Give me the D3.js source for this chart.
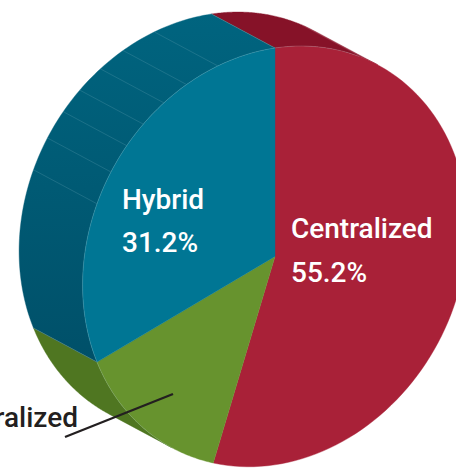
<!DOCTYPE html>
<html>
<head>
<meta charset="utf-8">
<script src="https://cdn.jsdelivr.net/npm/d3@7/dist/d3.min.js"></script>
<style>
html,body{margin:0;padding:0;background:#fff;overflow:hidden}
svg{display:block}
text{font-family:"Roboto",sans-serif;font-weight:500}
</style>
</head>
<body>
<script>
const categories = ["Centralized", "Decentralized", "Hybrid"];
const shares = [55.2, 13.6, 31.2];
const valueLabels = ["55.2%", null, "31.2%"];
const rimTickShares = [81.2, 83.75, 86, 88, 90.2, 92.4, 95.2];
const faceColors = ["#a92138", "#67932e", "#007694"];
const rimColors = ["#861228", "#4f7621", "#005f7a"];

const W = 456, H = 469;
const svg = d3.select("body").append("svg").attr("width", W).attr("height", H);

// Oblique projection of the unit disc: px from sin, py from cos and sin (skew).
const cx = 275, cy = 256.4, A = 192.4, B = 208.4, C = 28.7;
const dx = -63.5, dy = -34;
const sx = d3.scaleLinear().domain([-1, 1]).range([cx - A, cx + A]);
const project = (t, depth = 0) => [
  sx(Math.sin(t)) + dx * depth,
  cy - B * Math.cos(t) - C * Math.sin(t) + dy * depth
];
const toAngle = d3.scaleLinear().domain([0, 100]).range([0, 2 * Math.PI]);
const line = d3.line();
const arcPts = (a0, a1, depth = 0) =>
  d3.range(0, 97).map(i => project(a0 + (a1 - a0) * i / 96, depth));

const arcs = d3.pie().sort(null).value(d => d).startAngle(0).endAngle(2 * Math.PI)(shares);

// Silhouette tangent of the extrusion, where the rim becomes visible
const tangent = Math.atan((A * -dy + -dx * C) / (-dx * B));

const defs = svg.append("defs");
const g = defs.append("linearGradient").attr("id", "rimBlue")
  .attr("x1", 0).attr("y1", 0).attr("x2", 0).attr("y2", 1);
g.append("stop").attr("offset", 0).attr("stop-color", "#00647f");
g.append("stop").attr("offset", 1).attr("stop-color", "#005069");

// Rim spans: only the back-facing part of every slice
const rimSpans = [
  [arcs[0].startAngle, tangent],
  [Math.PI + tangent, arcs[1].endAngle],
  [arcs[2].startAngle, arcs[2].endAngle]
];
const rimFill = [rimColors[0], rimColors[1], "url(#rimBlue)"];
svg.append("g").selectAll("path").data(rimSpans).join("path")
  .attr("d", d => line(arcPts(d[0], d[1]).concat(arcPts(d[1], d[0], 1))) + "Z")
  .attr("fill", (d, i) => rimFill[i])
  .attr("stroke", (d, i) => rimFill[i])
  .attr("stroke-width", 0.4);

// Thin lighter ribs on the rim
svg.append("g").selectAll("line").data(rimTickShares).join("line")
  .attr("x1", d => project(toAngle(d))[0]).attr("y1", d => project(toAngle(d))[1])
  .attr("x2", d => project(toAngle(d), 1)[0]).attr("y2", d => project(toAngle(d), 1)[1])
  .attr("stroke", "#5f9db0").attr("stroke-width", 0.5).attr("stroke-opacity", 0.6);

// Rib between blue and green rim, and between red and blue rim
svg.append("g").selectAll("line").data([arcs[1].endAngle, 0]).join("line")
  .attr("x1", d => project(d)[0]).attr("y1", d => project(d)[1])
  .attr("x2", d => project(d, 1)[0]).attr("y2", d => project(d, 1)[1])
  .attr("stroke", "#8fb0a0").attr("stroke-width", 0.5).attr("stroke-opacity", 0.6);

// Hairline on the red rim
const redRib = toAngle(7.8);
svg.append("line")
  .attr("x1", project(redRib)[0]).attr("y1", project(redRib)[1])
  .attr("x2", project(redRib, 1)[0]).attr("y2", project(redRib, 1)[1])
  .attr("stroke", "#c06a78").attr("stroke-width", 0.5).attr("stroke-opacity", 0.7);

// Top face slices
svg.append("g").selectAll("path").data(arcs).join("path")
  .attr("d", d => line([[cx, cy]].concat(arcPts(d.startAngle, d.endAngle))) + "Z")
  .attr("fill", (d, i) => faceColors[i])
  .attr("stroke", (d, i) => faceColors[i])
  .attr("stroke-width", 0.4);

// Light hairline along visible face edge
svg.append("path")
  .attr("d", line(arcPts(Math.PI + tangent, 2 * Math.PI + 0.45)))
  .attr("fill", "none").attr("stroke", "#a9cdd2").attr("stroke-width", 0.5).attr("stroke-opacity", 0.4);

// Leader line
const leader = [[173, 394], [65, 437]];
svg.append("path").attr("d", line(leader)).attr("stroke", "#231f20").attr("stroke-width", 2.3).attr("fill", "none");

// Labels
const labelPos = [[291, 238, 282, "#fff", "start"], [78, 427, null, "#231f20", "end"], [122, 209, 252, "#fff", "start"]];
const lab = svg.append("g").attr("font-size", 28);
categories.forEach((c, i) => {
  const p = labelPos[i];
  lab.append("text").attr("x", p[0]).attr("y", p[1]).attr("fill", p[3]).attr("text-anchor", p[4]).text(c);
  if (valueLabels[i]) lab.append("text").attr("x", p[0]).attr("y", p[2]).attr("fill", p[3]).attr("text-anchor", p[4]).text(valueLabels[i]);
});
</script>
</body>
</html>
